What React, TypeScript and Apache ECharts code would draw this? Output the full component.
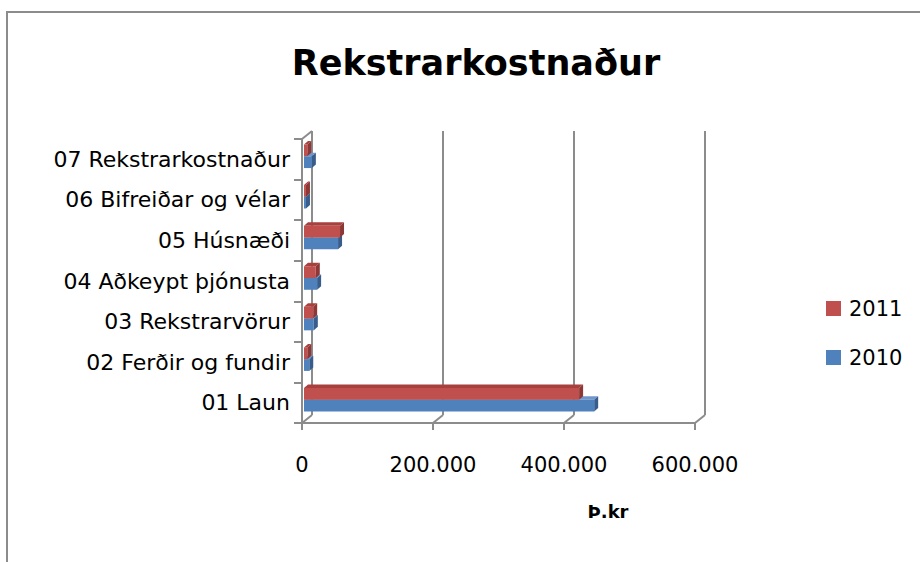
import React, { useEffect, useRef } from "react";
import * as echarts from "echarts";

const categories = [
  "01 Laun",
  "02 Ferðir og fundir",
  "03 Rekstrarvörur",
  "04 Aðkeypt þjónusta",
  "05 Húsnæði",
  "06 Bifreiðar og vélar",
  "07 Rekstrarkostnaður",
];
const values2010 = [443000, 8000, 15000, 20000, 52000, 3000, 12000];
const values2011 = [420000, 5000, 14000, 18000, 55000, 3000, 5000];
const xTicks = [0, 200000, 400000, 600000];

const FONT = "DejaVu Sans";
const GRID = "#8c8c8c";
const DX = 10;
const DY = 8;

function barRenderer(upper: boolean, front: string, top: string, side: string) {
  return (params: any, api: any) => {
    const v = api.value(0);
    const c = api.value(1);
    const p0 = api.coord([0, c]);
    const p1 = api.coord([v, c]);
    const band = api.size([0, 1])[1];
    const h = band * 0.29;
    const cy = p0[1] - 3;
    const y0 = upper ? cy - h : cy;
    const y1 = y0 + h;
    const x0 = p0[0] + 2;
    const x1 = Math.max(p1[0] + 2, x0 + 1);
    const d = 4;
    const e = 3.5;
    return {
      type: "group",
      children: [
        {
          type: "polygon",
          shape: { points: [[x0, y0], [x0 + d, y0 - e], [x1 + d, y0 - e], [x1, y0]] },
          style: { fill: top },
        },
        {
          type: "polygon",
          shape: { points: [[x1, y0], [x1 + d, y0 - e], [x1 + d, y1 - e], [x1, y1]] },
          style: { fill: side },
        },
        {
          type: "rect",
          shape: { x: x0, y: y0, width: x1 - x0, height: h },
          style: { fill: front },
        },
      ],
    };
  };
}

function frameRenderer(params: any, api: any) {
  const v = api.value(0);
  const cs = params.coordSys;
  const x = api.coord([v, 0])[0];
  const top = cs.y;
  const bottom = cs.y + cs.height;
  const lineStyle = { stroke: GRID, lineWidth: 2 };
  const children: any[] = [
    { type: "line", shape: { x1: x + DX, y1: top - DY, x2: x + DX, y2: bottom - DY }, style: lineStyle },
    { type: "line", shape: { x1: x, y1: bottom, x2: x + DX, y2: bottom - DY }, style: lineStyle },
  ];
  if (v === 0) {
    children.push({ type: "line", shape: { x1: x, y1: top, x2: x + DX, y2: top - DY }, style: lineStyle });
  }
  return { type: "group", children };
}

const fmt = (v: number) => String(v).replace(/\B(?=(\d{3})+(?!\d))/g, ".");

export default function App() {
  const ref = useRef<HTMLDivElement>(null);
  useEffect(() => {
    if (!ref.current) return;
    const chart = echarts.init(ref.current, null, { renderer: "svg" });
    chart.setOption({
      animation: false,
      backgroundColor: "#ffffff",
      textStyle: { fontFamily: FONT },
      title: {
        text: "Rekstrarkostnaður",
        left: 471,
        top: 40,
        textAlign: "center",
        textStyle: { fontFamily: FONT, fontSize: 35, fontWeight: "bold", color: "#000" },
      },
      legend: {
        data: ["2011", "2010"],
        orient: "vertical",
        left: 821,
        top: 293,
        icon: "rect",
        itemWidth: 15,
        itemHeight: 15,
        itemGap: 28,
        textStyle: { fontFamily: FONT, fontSize: 21, color: "#000", padding: [0, 0, 0, 3] },
      },
      grid: { left: 302, top: 139, width: 393, height: 284, containLabel: false },
      xAxis: {
        type: "value",
        min: 0,
        max: 600000,
        interval: 200000,
        axisLine: { show: true, lineStyle: { color: GRID, width: 2 } },
        axisTick: { show: true, length: 7, lineStyle: { color: GRID, width: 2 } },
        splitLine: { show: false },
        axisLabel: {
          formatter: fmt,
          margin: 31,
          fontFamily: FONT,
          fontSize: 21,
          color: "#000",
        },
      },
      yAxis: {
        type: "category",
        data: categories,
        axisLine: { show: true, lineStyle: { color: GRID, width: 2 } },
        axisTick: { show: true, length: 8, lineStyle: { color: GRID, width: 2 } },
        axisLabel: { margin: 12, fontFamily: FONT, fontSize: 22, color: "#000" },
        splitLine: { show: false },
      },
      graphic: [
        {
          type: "rect",
          shape: { x: 7, y: 12, width: 940, height: 600 },
          style: { fill: "none", stroke: GRID, lineWidth: 2 },
          silent: true,
          z: -1,
        },
        {
          type: "text",
          x: 608,
          y: 511,
          style: {
            text: "Þ.kr",
            fontFamily: FONT,
            fontSize: 18,
            fontWeight: "bold",
            fill: "#000",
            align: "center",
            verticalAlign: "middle",
          },
        },
      ],
      series: [
        {
          name: "frame",
          type: "custom",
          z: 1,
          silent: true,
          clip: false,
          data: xTicks.map((t) => [t, 0]),
          renderItem: frameRenderer,
        },
        {
          name: "2010",
          type: "custom",
          z: 2,
          clip: false,
          itemStyle: { color: "#4F81BD" },
          data: values2010.map((v, i) => [v, i]),
          encode: { x: 0, y: 1 },
          renderItem: barRenderer(false, "#4F81BD", "#6F97CC", "#385D8A"),
        },
        {
          name: "2011",
          type: "custom",
          z: 3,
          clip: false,
          itemStyle: { color: "#C0504D" },
          data: values2011.map((v, i) => [v, i]),
          encode: { x: 0, y: 1 },
          renderItem: barRenderer(true, "#C0504D", "#A8413E", "#8C3836"),
        },
      ],
    });
    return () => chart.dispose();
  }, []);
  return (
    <div
      ref={ref}
      style={{ position: "absolute", left: 0, top: 0, width: 920, height: 562 }}
    />
  );
}
